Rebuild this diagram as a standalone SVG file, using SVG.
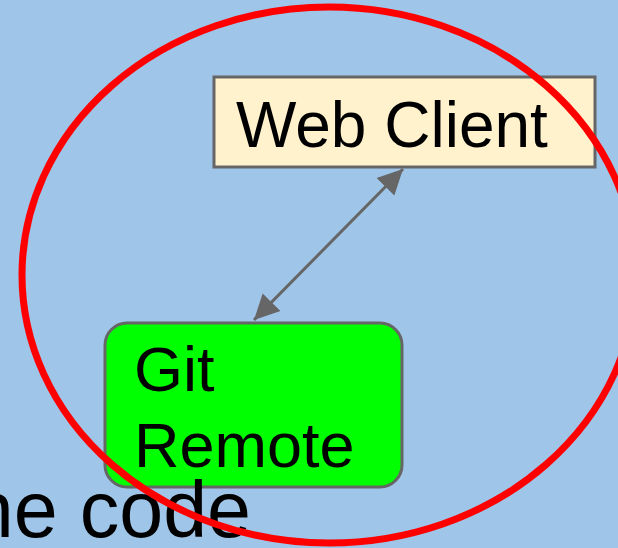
<svg xmlns="http://www.w3.org/2000/svg" width="618" height="548" viewBox="0 0 618 548">
<style>
.txt{font-family:"Liberation Sans",Arial,sans-serif;fill:#000}
.box{stroke:#666666;stroke-width:3}
.conn{stroke:#666666;stroke-width:3;fill:none}
</style>
<defs>
<marker id="ah" viewBox="0 0 10 10" refX="10" refY="5" markerWidth="25" markerHeight="26" orient="auto-start-reverse" markerUnits="userSpaceOnUse">
<path d="M0,0 L10,5 L0,10 z" fill="#666666"/>
</marker>
</defs>
<rect x="0" y="0" width="618" height="548" fill="#9fc5e8"/>
<g id="connectors">
<line class="conn" x1="254" y1="320" x2="403" y2="169" marker-start="url(#ah)" marker-end="url(#ah)"/>
</g>
<g id="web-client">
<rect class="box" x="214" y="77" width="381" height="90" fill="#fff2cc"/>
<text class="txt" x="236" y="147" font-size="64">Web Client</text>
</g>
<g id="git-remote">
<rect class="box" x="105" y="323" width="297" height="164" rx="22" fill="#00ff00"/>
<text class="txt" x="134" y="391" font-size="63">Git</text>
<text class="txt" x="134" y="467" font-size="63">Remote</text>
</g>
<text class="txt" x="251" y="537" font-size="79" text-anchor="end">the code</text>
<ellipse cx="329" cy="275" rx="307" ry="268" fill="none" stroke="#ff0000" stroke-width="7"/>
</svg>
